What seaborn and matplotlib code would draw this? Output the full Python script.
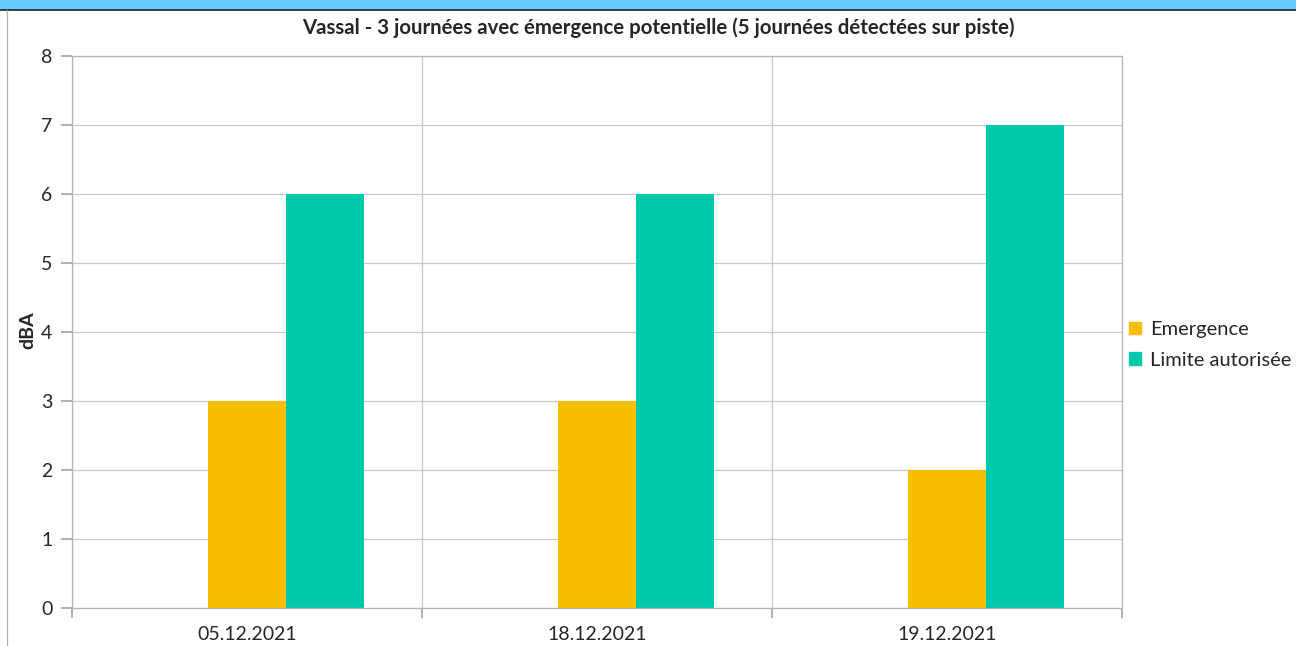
import matplotlib.pyplot as plt
from matplotlib.patches import Rectangle, Patch
import seaborn as sns
import pandas as pd

# données
dates = ["05.12.2021", "18.12.2021", "19.12.2021"]
emergence = [3, 3, 2]
limite = [6, 6, 7]
vide = [0, 0, 0]  # série vide qui occupe le premier emplacement

series = ["_vide", "Emergence", "Limite autorisée"]
couleurs = {"_vide": "#FFFFFF", "Emergence": "#F8BE00", "Limite autorisée": "#00C8AA"}

df = pd.DataFrame({
    "date": dates * 3,
    "serie": [series[0]] * 3 + [series[1]] * 3 + [series[2]] * 3,
    "dBA": vide + emergence + limite,
})

sns.set_theme(style="white")
plt.rcParams['font.family'] = ['Lato', 'DejaVu Sans']

fig = plt.figure(figsize=(12.96, 6.46), dpi=100)
ax = fig.add_axes([0.0555, 0.059, 0.8105, 0.854])

sns.barplot(data=df, x="date", y="dBA", hue="serie", hue_order=series,
            palette=couleurs, width=2/3, gap=0, saturation=1,
            linewidth=0, edgecolor="none", legend=False, ax=ax)

ax.set_ylim(0, 8)
ax.set_xlim(-0.5, 2.5)
ax.set_yticks(range(0, 9))
ax.tick_params(axis="y", labelsize=14, length=8, color="#A6A6A6", left=True,
               pad=6, direction="out")

# graduations majeures aux limites de catégories, étiquettes au centre
ax.set_xticks([-0.5, 0.5, 1.5, 2.5])
ax.set_xticklabels([])
ax.set_xticks([0, 1, 2], minor=True)
ax.set_xticklabels(dates, minor=True)
ax.tick_params(axis="x", which="major", length=7, color="#A6A6A6", bottom=True,
               direction="out")
ax.tick_params(axis="x", which="minor", length=0, labelsize=14, pad=13)

ax.grid(True, which="major", axis="both", color="#C8C8C8", linewidth=0.9)
ax.set_axisbelow(True)
for s in ax.spines.values():
    s.set_color("#B4B4B4")
    s.set_linewidth(0.9)

ax.set_xlabel("")
ax.set_ylabel("")
fig.text(0.0216, 0.489, "dBA", rotation=90, ha="center", va="center",
         fontsize=14, fontweight="bold")
fig.text(0.508, 0.957, "Vassal - 3 journées avec émergence potentielle (5 journées détectées sur piste)",
         ha="center", va="center", fontsize=14.7, fontweight="bold")

handles = [Patch(color=couleurs[s]) for s in series[1:]]
fig.legend(handles, series[1:], loc="center left", bbox_to_anchor=(0.868, 0.466),
           frameon=False, fontsize=14.5, handlelength=0.6, handleheight=0.6,
           handletextpad=0.45, labelspacing=0.68, borderaxespad=0, borderpad=0.2)

# cadre de la fenêtre
fig.patches.append(Rectangle((0, 0.986), 1, 0.014, transform=fig.transFigure,
                             color="#66CCFF", zorder=0))
fig.lines.append(plt.Line2D([0, 1], [0.985, 0.985], transform=fig.transFigure,
                            color="#222222", linewidth=1.2))
fig.lines.append(plt.Line2D([0.0055, 0.0055], [0, 0.984], transform=fig.transFigure,
                            color="#B0B0B0", linewidth=0.9))

fig.savefig("out.png", dpi=100)
